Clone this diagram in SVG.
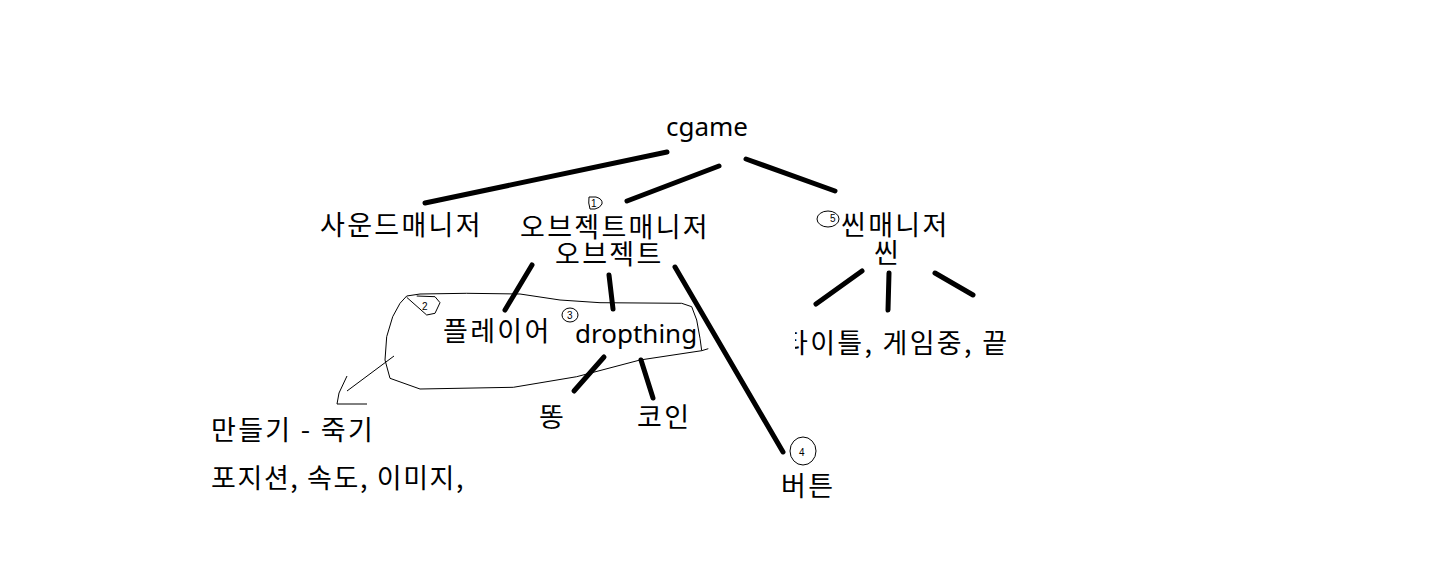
<svg xmlns="http://www.w3.org/2000/svg" width="1432" height="583" viewBox="0 0 1432 583">
<style>
.t{font-family:"Noto Sans CJK KR","Noto Sans",sans-serif;font-size:27px;letter-spacing:2.3px;fill:#000}
.e{font-family:"Noto Sans","Noto Sans CJK KR",sans-serif;font-size:26px;fill:#000}
.l{stroke:#000;stroke-width:5;stroke-linecap:round;fill:none}
.s{stroke:#000;stroke-width:1;fill:none;stroke-linejoin:round}
.n{font-family:"Liberation Sans",sans-serif;font-size:10px;fill:#000}
</style>
<defs>
<clipPath id="cl"><rect x="795" y="300" width="300" height="80"/></clipPath>
</defs>
<rect width="1432" height="583" fill="#fff"/>
<g id="connectors">
<line class="l" x1="667" y1="152" x2="425" y2="203"/>
<line class="l" x1="719" y1="166" x2="627" y2="201"/>
<line class="l" x1="746" y1="159" x2="835" y2="191"/>
<line class="l" x1="532" y1="265" x2="505" y2="310"/>
<line class="l" x1="609" y1="275" x2="613" y2="309"/>
<line class="l" x1="675" y1="267" x2="783" y2="452"/>
<line class="l" x1="604" y1="357" x2="574" y2="391"/>
<line class="l" x1="641" y1="360" x2="653" y2="398"/>
<line class="l" x1="862" y1="271" x2="816" y2="304"/>
<line class="l" x1="889" y1="273" x2="888" y2="310"/>
<line class="l" x1="935" y1="273" x2="973" y2="295"/>
</g>
<g id="outline">
<path class="s" d="M406.7,296 L420,294 L466.7,293.3 L520,294 L560,300 L600,302.7 L681.7,303.3 L691.7,306.7 L696.7,320 L700,338.3 L701.7,350.7 L708.3,348.7 M701.7,350.7 L640,360 L576.7,376.7 L513.3,387.3 L420,389 L390,378.3 L385,360 L386.7,336.7 L392.7,316.7 L400,303.3 L406.7,296"/>
<path class="s" d="M406.7,297.3 L426.7,315 L435,313.3 L440,302.7 L435,296.7 L416.7,296"/>
<path class="s" d="M394,356 L347,391 M347,376 L339,393 L337,404 L367,404"/>
</g>
<g id="marks">
<path class="s" d="M589,197 L596,197 Q603,199 602,204 Q600,208 595,209 L590,209 Q588,203 589,197 Z"/>
<text class="n" x="591" y="207">1</text>
<text class="n" x="422" y="310">2</text>
<ellipse class="s" cx="570" cy="315" rx="8" ry="7"/>
<text class="n" x="567" y="319">3</text>
<ellipse class="s" cx="803" cy="451" rx="13" ry="14"/>
<text class="n" x="799" y="456">4</text>
<ellipse class="s" cx="828" cy="219" rx="11" ry="8"/>
<text class="n" x="830" y="222">5</text>
</g>
<g id="cgame"><text class="e" x="666" y="136">cgame</text></g>
<g id="sound"><text class="t" x="320" y="235">사운드매니저</text></g>
<g id="objmgr"><text class="t" x="520" y="237">오브젝트매니저</text><text class="t" x="555" y="264">오브젝트</text></g>
<g id="scenemgr"><text class="t" x="841" y="235">씬매니저</text><text class="t" x="874" y="263">씬</text></g>
<g id="scenes"><text class="t" x="783" y="353" clip-path="url(#cl)">타이틀, 게임중, 끝</text></g>
<g id="player"><text class="t" x="443" y="341">플레이어</text></g>
<g id="dropthing"><text class="e" x="575" y="343">dropthing</text></g>
<g id="ddong"><text class="t" x="539" y="427">똥</text></g>
<g id="coin"><text class="t" x="637" y="427">코인</text></g>
<g id="button"><text class="t" x="781" y="496">버튼</text></g>
<g id="note"><text class="t" x="211" y="440">만들기 - 죽기</text><text class="t" x="211" y="488" style="letter-spacing:1.6px">포지션, 속도, 이미지,</text></g>
</svg>
